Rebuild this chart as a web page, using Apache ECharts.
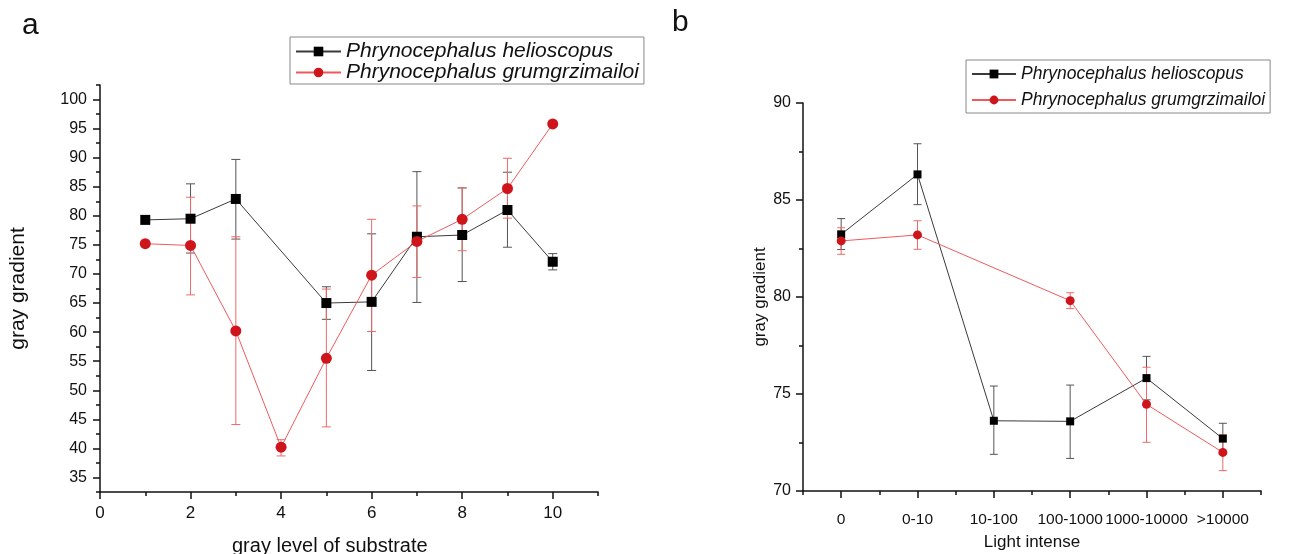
<!DOCTYPE html>
<html>
<head>
    <meta charset="UTF-8">
    <title>gray gradient</title>
    <script src="https://cdn.jsdelivr.net/npm/echarts@6/dist/echarts.min.js"></script>
    <style>
        body { margin: 0; background: #fff; }
        #main { width: 1299px; height: 554px; }
    </style>
</head>
<body>
    <div id="main"></div>
    <script type="text/javascript">
        // 图 a：灰度等级
        var levelsA = [1, 2, 3, 4, 5, 6, 7, 8, 9, 10];
        var heliosA = [79.3, 79.5, 82.9, null, 65.0, 65.2, 76.4, 76.7, 81.0, 72.1];
        var heliosALow = [null, 73.6, 76.0, null, 62.2, 53.4, 65.1, 68.7, 74.6, 70.7];
        var heliosAHigh = [null, 85.5, 89.7, null, 67.8, 76.9, 87.6, 84.8, 87.5, 73.5];
        var grumA = [75.2, 74.9, 60.2, 40.2, 55.5, 69.8, 75.6, 79.4, 84.7, 95.8];
        var grumALow = [null, 66.4, 44.1, 38.7, 43.7, 60.1, 69.4, 74.0, 79.6, null];
        var grumAHigh = [null, 83.2, 76.4, 41.5, 67.4, 79.4, 81.7, 84.8, 89.9, null];
        var yTicksA = [35, 40, 45, 50, 55, 60, 65, 70, 75, 80, 85, 90, 95, 100];
        var xTicksA = [0, 2, 4, 6, 8, 10];

        // 图 b：光照强度
        var lightB = ['0', '0-10', '10-100', '100-1000', '1000-10000', '>10000'];
        var heliosB = [83.23, 86.32, 73.62, 73.59, 75.82, 72.70];
        var heliosBLow = [82.45, 84.76, 71.89, 71.68, 74.70, 71.90];
        var heliosBHigh = [84.04, 87.90, 75.41, 75.46, 76.94, 73.49];
        var grumB = [82.89, 83.20, null, 79.81, 74.47, 71.99];
        var grumBLow = [82.20, 82.46, null, 79.40, 72.51, 71.05];
        var grumBHigh = [83.57, 83.93, null, 80.22, 76.38, 72.90];
        var yTicksB = [70, 75, 80, 85, 90];

        var NAME1 = 'Phrynocephalus helioscopus';
        var NAME2 = 'Phrynocephalus grumgrzimailoi';
        var FONT = '"Liberation Sans", Arial, sans-serif';

        function pts(xs, ys) {
            var out = [];
            for (var i = 0; i < xs.length; i++) {
                if (ys[i] != null) out.push([xs[i], ys[i]]);
            }
            return out;
        }
        function errs(xs, lo, hi) {
            var out = [];
            for (var i = 0; i < xs.length; i++) {
                if (lo[i] != null) out.push([xs[i], lo[i], hi[i]]);
            }
            return out;
        }
        function errBar(color, cap) {
            return function (params, api) {
                var x = api.value(0);
                var p1 = api.coord([x, api.value(2)]);
                var p2 = api.coord([x, api.value(1)]);
                var st = { stroke: color, lineWidth: 1 };
                return {
                    type: 'group',
                    children: [
                        { type: 'line', shape: { x1: p1[0], y1: p1[1], x2: p2[0], y2: p2[1] }, style: st },
                        { type: 'line', shape: { x1: p1[0] - cap, y1: p1[1], x2: p1[0] + cap, y2: p1[1] }, style: st },
                        { type: 'line', shape: { x1: p2[0] - cap, y1: p2[1], x2: p2[0] + cap, y2: p2[1] }, style: st }
                    ]
                };
            };
        }

        var axisLine = { onZero: false, lineStyle: { color: '#111', width: 1.5 } };
        var noLine = { show: false, onZero: false };
        var lbl = { color: '#111', fontFamily: FONT };
        var idxB = [0, 1, 2, 3, 4, 5];

        var myChart = echarts.init(document.getElementById('main'));
        myChart.setOption({
            animation: false,
            title: [
                { text: 'a', left: 17, top: 6, textStyle: { fontSize: 30, fontWeight: 'normal', color: '#111', fontFamily: FONT } },
                { text: 'b', left: 667, top: 3, textStyle: { fontSize: 30, fontWeight: 'normal', color: '#111', fontFamily: FONT } }
            ],
            legend: [
                {
                    orient: 'vertical', left: 290, top: 37, padding: [4, 5, 1, 5], itemGap: 0,
                    itemWidth: 45, itemHeight: 12, borderColor: '#888', borderWidth: 1,
                    data: [NAME1, NAME2],
                    textStyle: { fontSize: 21, fontStyle: 'italic', color: '#111', fontFamily: FONT }
                },
                {
                    orient: 'vertical', left: 966, top: 60, padding: [5, 5, 4, 5], itemGap: 8,
                    itemWidth: 44, itemHeight: 11, borderColor: '#888', borderWidth: 1,
                    data: [NAME1, NAME2],
                    textStyle: { fontSize: 17.5, fontStyle: 'italic', color: '#111', fontFamily: FONT }
                }
            ],
            grid: [
                { left: 100, top: 85, width: 498, height: 407, outerBoundsMode: 'none' },
                { left: 803, top: 103, width: 458, height: 388, outerBoundsMode: 'none' }
            ],
            xAxis: [
                {
                    type: 'value', gridIndex: 0, position: 'bottom', min: 0, max: 11, interval: 1,
                    axisLine: axisLine, splitLine: { show: false },
                    axisTick: { length: 4, lineStyle: { color: '#111', width: 1.5 } },
                    axisLabel: Object.assign({ fontSize: 17, margin: 13, formatter: function (v) { return v % 2 === 0 ? v : ''; } }, lbl)
                },
                {
                    type: 'value', gridIndex: 0, position: 'bottom', min: 0, max: 11,
                    axisLine: noLine, splitLine: { show: false }, axisLabel: { show: false },
                    axisTick: { length: 7, customValues: xTicksA, lineStyle: { color: '#111', width: 1.5 } }
                },
                {
                    type: 'value', gridIndex: 1, position: 'bottom', min: -0.5, max: 5.5, interval: 0.5,
                    axisLine: axisLine, splitLine: { show: false },
                    axisTick: { length: 4, lineStyle: { color: '#111', width: 1.5 } },
                    axisLabel: Object.assign({
                        fontSize: 15.5, margin: 21,
                        formatter: function (v) { return Number.isInteger(v) ? lightB[v] : ''; }
                    }, lbl),
                    name: 'Light intense', nameLocation: 'middle', nameGap: 43,
                    nameTextStyle: { fontSize: 17, color: '#111', fontFamily: FONT }
                },
                {
                    type: 'value', gridIndex: 1, position: 'bottom', min: -0.5, max: 5.5,
                    axisLine: noLine, splitLine: { show: false }, axisLabel: { show: false },
                    axisTick: { length: 7, customValues: idxB, lineStyle: { color: '#111', width: 1.5 } }
                }
            ],
            yAxis: [
                {
                    type: 'value', gridIndex: 0, position: 'left', min: 32.5, max: 102.5, interval: 2.5,
                    axisLine: axisLine, splitLine: { show: false },
                    axisTick: { length: 4, lineStyle: { color: '#111', width: 1.5 } },
                    axisLabel: Object.assign({ fontSize: 16, margin: 13, formatter: function (v) { return v % 5 === 0 ? v : ''; } }, lbl),
                    name: 'gray gradient', nameLocation: 'middle', nameGap: 71,
                    nameTextStyle: { fontSize: 21, color: '#111', fontFamily: FONT }
                },
                {
                    type: 'value', gridIndex: 0, position: 'left', min: 32.5, max: 102.5,
                    axisLine: noLine, splitLine: { show: false }, axisLabel: { show: false },
                    axisTick: { length: 7, customValues: yTicksA, lineStyle: { color: '#111', width: 1.5 } }
                },
                {
                    type: 'value', gridIndex: 1, position: 'left', min: 70, max: 90, interval: 2.5,
                    axisLine: axisLine, splitLine: { show: false },
                    axisTick: { length: 4, lineStyle: { color: '#111', width: 1.5 } },
                    axisLabel: Object.assign({ fontSize: 16, margin: 12, formatter: function (v) { return v % 5 === 0 ? v : ''; } }, lbl),
                    name: 'gray gradient', nameLocation: 'middle', nameGap: 25,
                    nameTextStyle: { fontSize: 17, color: '#111', fontFamily: FONT }
                },
                {
                    type: 'value', gridIndex: 1, position: 'left', min: 70, max: 90,
                    axisLine: noLine, splitLine: { show: false }, axisLabel: { show: false },
                    axisTick: { length: 7, customValues: yTicksB, lineStyle: { color: '#111', width: 1.5 } }
                }
            ],
            graphic: [
                {
                    type: 'text', left: 232, top: 536,
                    style: { text: 'gray level of substrate', fontSize: 20, fill: '#111', fontFamily: FONT }
                }
            ],
            series: [
                // 误差线 a
                { type: 'custom', xAxisIndex: 0, yAxisIndex: 0, z: 1, renderItem: errBar('#555', 4.5), data: errs(levelsA, heliosALow, heliosAHigh) },
                { type: 'custom', xAxisIndex: 0, yAxisIndex: 0, z: 1, renderItem: errBar('#ec6b6b', 4.5), data: errs(levelsA, grumALow, grumAHigh) },
                // 误差线 b
                { type: 'custom', xAxisIndex: 2, yAxisIndex: 2, z: 1, renderItem: errBar('#555', 4), data: errs(idxB, heliosBLow, heliosBHigh) },
                { type: 'custom', xAxisIndex: 2, yAxisIndex: 2, z: 1, renderItem: errBar('#ec6b6b', 4), data: errs(idxB, grumBLow, grumBHigh) },
                {
                    name: NAME1, type: 'line', xAxisIndex: 0, yAxisIndex: 0, z: 3,
                    symbol: 'rect', symbolSize: 10,
                    itemStyle: { color: '#000' }, lineStyle: { color: '#3a3a3a', width: 1 },
                    data: pts(levelsA, heliosA)
                },
                {
                    name: NAME2, type: 'line', xAxisIndex: 0, yAxisIndex: 0, z: 4,
                    symbol: 'circle', symbolSize: 11,
                    itemStyle: { color: '#cf151c' }, lineStyle: { color: '#ee5a5c', width: 1 },
                    data: pts(levelsA, grumA)
                },
                {
                    name: NAME1, type: 'line', xAxisIndex: 2, yAxisIndex: 2, z: 3,
                    symbol: 'rect', symbolSize: 8,
                    itemStyle: { color: '#000' }, lineStyle: { color: '#3a3a3a', width: 1 },
                    data: pts(idxB, heliosB)
                },
                {
                    name: NAME2, type: 'line', xAxisIndex: 2, yAxisIndex: 2, z: 4,
                    symbol: 'circle', symbolSize: 9,
                    itemStyle: { color: '#cf151c' }, lineStyle: { color: '#ee5a5c', width: 1 },
                    data: pts(idxB, grumB)
                }
            ]
        });
    </script>
</body>
</html>
